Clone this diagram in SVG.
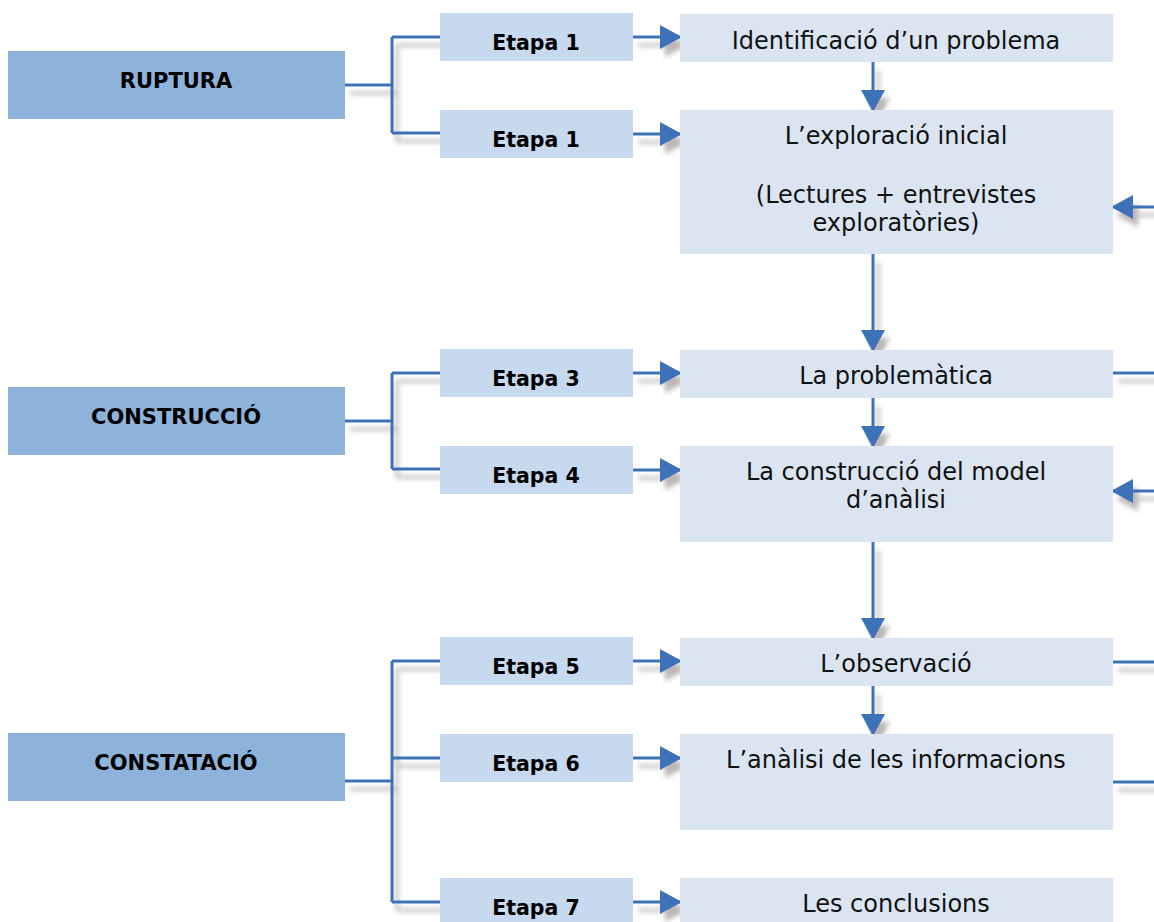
<svg xmlns="http://www.w3.org/2000/svg" width="1154" height="922" viewBox="0 0 1154 922">
<style>
.phase{fill:#8DB3DB}
.etapa{fill:#C6D9EE}
.step{fill:#DBE5F1}
.lbl{font-family:"DejaVu Sans",sans-serif;font-weight:bold;font-size:20.5px;fill:#000;text-anchor:middle}
.ph{font-size:21px}
.txt{font-family:"DejaVu Sans",sans-serif;font-size:24px;fill:#111;text-anchor:middle}
.ln{fill:none;stroke:#3D72B8;stroke-width:3}
</style>
<defs>
<filter id="sh" x="-20%" y="-20%" width="140%" height="160%">
<feDropShadow dx="5" dy="8" stdDeviation="2.5" flood-color="#6b5a5a" flood-opacity="0.45"/>
</filter>
<marker id="ah" markerWidth="22" markerHeight="24" refX="20" refY="12" orient="auto" markerUnits="userSpaceOnUse">
<path d="M0,0 L22,12 L0,24 Z" fill="#3D72B8"/>
</marker>
</defs>

<g id="connectors" filter="url(#sh)">
<path class="ln" d="M345,85 H392 M392,37 V133 M392,37 H440 M392,133 H440"/>
<path class="ln" d="M345,421 H392 M392,373 V469 M392,373 H440 M392,469 H440"/>
<path class="ln" d="M345,781 H392 M392,661 V902 M392,661 H440 M392,758 H440 M392,902 H440"/>
<line class="ln" x1="633" y1="37" x2="680" y2="37" marker-end="url(#ah)"/>
<line class="ln" x1="633" y1="134" x2="680" y2="134" marker-end="url(#ah)"/>
<line class="ln" x1="633" y1="373" x2="680" y2="373" marker-end="url(#ah)"/>
<line class="ln" x1="633" y1="470" x2="680" y2="470" marker-end="url(#ah)"/>
<line class="ln" x1="633" y1="661" x2="680" y2="661" marker-end="url(#ah)"/>
<line class="ln" x1="633" y1="758" x2="680" y2="758" marker-end="url(#ah)"/>
<line class="ln" x1="633" y1="902" x2="680" y2="902" marker-end="url(#ah)"/>
<line class="ln" x1="873" y1="62" x2="873" y2="110" marker-end="url(#ah)"/>
<line class="ln" x1="873" y1="254" x2="873" y2="350" marker-end="url(#ah)"/>
<line class="ln" x1="873" y1="398" x2="873" y2="446" marker-end="url(#ah)"/>
<line class="ln" x1="873" y1="542" x2="873" y2="638" marker-end="url(#ah)"/>
<line class="ln" x1="873" y1="686" x2="873" y2="734" marker-end="url(#ah)"/>
<line class="ln" x1="1160" y1="207" x2="1113" y2="207" marker-end="url(#ah)"/>
<line class="ln" x1="1113" y1="373" x2="1160" y2="373"/>
<line class="ln" x1="1160" y1="491" x2="1113" y2="491" marker-end="url(#ah)"/>
<line class="ln" x1="1113" y1="662" x2="1160" y2="662"/>
<line class="ln" x1="1113" y1="782" x2="1160" y2="782"/>
</g>

<g id="ruptura"><rect class="phase" x="8" y="51" width="337" height="68"/><text class="lbl ph" x="176" y="88">RUPTURA</text></g>
<g id="construccio"><rect class="phase" x="8" y="387" width="337" height="68"/><text class="lbl ph" x="176" y="424">CONSTRUCCIÓ</text></g>
<g id="constatacio"><rect class="phase" x="8" y="733" width="337" height="68"/><text class="lbl ph" x="176" y="770">CONSTATACIÓ</text></g>

<g id="etapa1a"><rect class="etapa" x="440" y="13" width="193" height="48"/><text class="lbl" x="536" y="50">Etapa 1</text></g>
<g id="etapa1b"><rect class="etapa" x="440" y="110" width="193" height="48"/><text class="lbl" x="536" y="147">Etapa 1</text></g>
<g id="etapa3"><rect class="etapa" x="440" y="349" width="193" height="48"/><text class="lbl" x="536" y="386">Etapa 3</text></g>
<g id="etapa4"><rect class="etapa" x="440" y="446" width="193" height="48"/><text class="lbl" x="536" y="483">Etapa 4</text></g>
<g id="etapa5"><rect class="etapa" x="440" y="637" width="193" height="48"/><text class="lbl" x="536" y="674">Etapa 5</text></g>
<g id="etapa6"><rect class="etapa" x="440" y="734" width="193" height="48"/><text class="lbl" x="536" y="771">Etapa 6</text></g>
<g id="etapa7"><rect class="etapa" x="440" y="878" width="193" height="48"/><text class="lbl" x="536" y="915">Etapa 7</text></g>

<g id="identificacio"><rect class="step" x="680" y="14" width="433" height="48"/><text class="txt" x="896" y="49">Identificació d’un problema</text></g>
<g id="exploracio"><rect class="step" x="680" y="110" width="433" height="144"/><text class="txt" x="896" y="144">L’exploració inicial</text><text class="txt" x="896" y="203">(Lectures + entrevistes</text><text class="txt" x="896" y="231">exploratòries)</text></g>
<g id="problematica"><rect class="step" x="680" y="350" width="433" height="48"/><text class="txt" x="896" y="384">La problemàtica</text></g>
<g id="model"><rect class="step" x="680" y="446" width="433" height="96"/><text class="txt" x="896" y="480">La construcció del model</text><text class="txt" x="896" y="508">d’anàlisi</text></g>
<g id="observacio"><rect class="step" x="680" y="638" width="433" height="48"/><text class="txt" x="896" y="672">L’observació</text></g>
<g id="analisi"><rect class="step" x="680" y="734" width="433" height="96"/><text class="txt" x="896" y="768">L’anàlisi de les informacions</text></g>
<g id="conclusions"><rect class="step" x="680" y="878" width="433" height="48"/><text class="txt" x="896" y="912">Les conclusions</text></g>
</svg>
